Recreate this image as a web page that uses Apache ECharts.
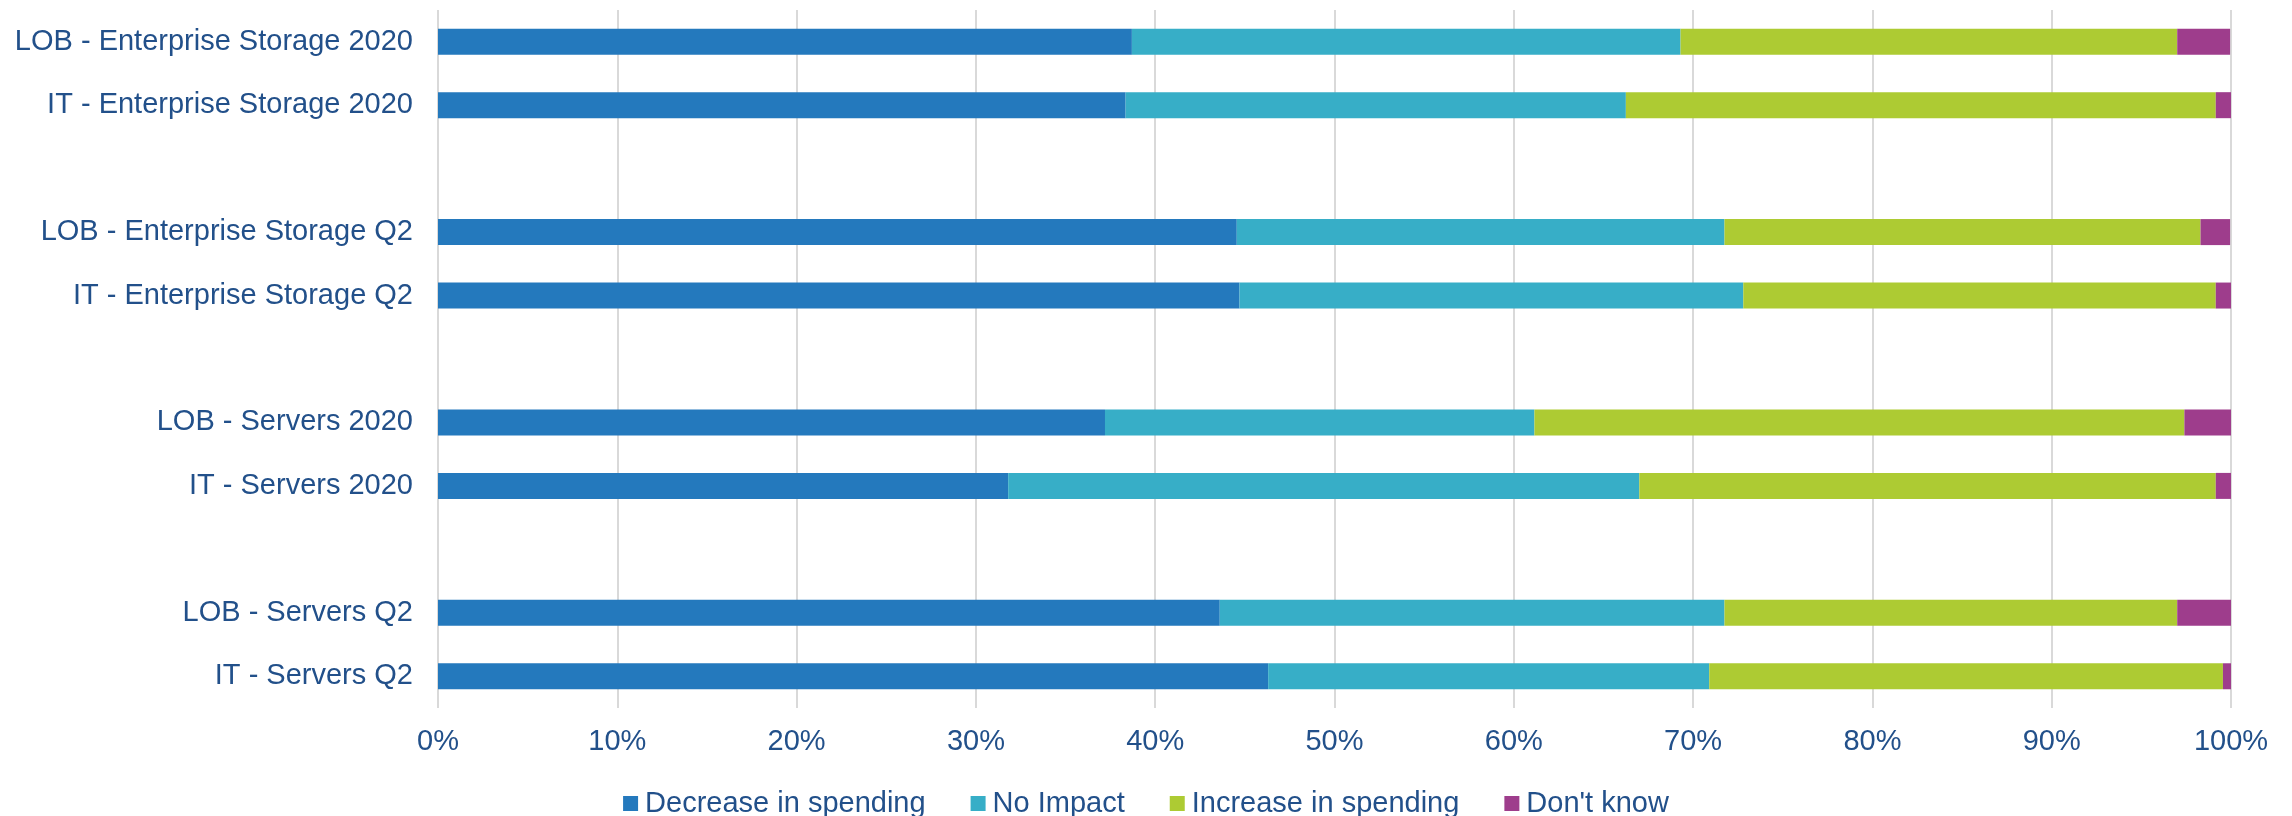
<!DOCTYPE html>
<html>
<head>
<meta charset="utf-8">
<title>Spending impact</title>
<script src="https://cdn.jsdelivr.net/npm/echarts@6/dist/echarts.min.js"></script>
<style>
    html, body { margin: 0; padding: 0; background: #ffffff; }
    #main { width: 2292px; height: 816px; }
</style>
</head>
<body>
<div id="main"></div>
<script>
// rows bottom -> top, blank rows are the gaps between groups
var categories = ['IT - Servers Q2', 'LOB - Servers Q2', ' ',
    'IT - Servers 2020', 'LOB - Servers 2020', '  ',
    'IT - Enterprise Storage Q2', 'LOB - Enterprise Storage Q2', '   ',
    'IT - Enterprise Storage 2020', 'LOB - Enterprise Storage 2020'];

var decrease = [46.3, 43.6, null, 31.8, 37.2, null, 44.7, 44.55, null, 38.35, 38.7];
var noImpact = [24.6, 28.15, null, 35.2, 23.95, null, 28.1, 27.2, null, 27.9, 30.6];
var increase = [28.65, 25.25, null, 32.15, 36.25, null, 26.35, 26.55, null, 32.9, 27.7];
var dontKnow = [0.45, 3.0, null, 0.85, 2.6, null, 0.85, 1.65, null, 0.85, 2.95];

var seriesNames = ['Decrease in spending', 'No Impact', 'Increase in spending', "Don't know"];
var seriesColors = ['#2479BD', '#37AEC7', '#ADCB33', '#9E3D8C'];

var textColor = '#22508A';
var fontName = '"Liberation Sans", Arial, sans-serif';

var dom = document.getElementById('main');
var myChart = echarts.init(dom);

function bar(name, values, color) {
    return {
        name: name,
        type: 'bar',
        stack: 'total',
        barWidth: 26,
        data: values,
        itemStyle: { color: color },
        animation: false
    };
}

var option = {
    backgroundColor: '#ffffff',
    textStyle: { fontFamily: fontName },
    grid: {
        left: 438,
        right: 61,
        top: 10,
        bottom: 108
    },
    legend: {
        top: 784,
        left: 'center',
        itemWidth: 15,
        itemHeight: 15,
        itemGap: 45,
        icon: 'rect',
        data: seriesNames,
        textStyle: {
            color: textColor,
            fontSize: 29,
            fontFamily: fontName,
            padding: [0, 0, 0, 2]
        }
    },
    xAxis: {
        type: 'value',
        min: 0,
        max: 100,
        interval: 10,
        axisLine: { show: false },
        axisTick: { show: false },
        axisLabel: {
            formatter: '{value}%',
            color: textColor,
            fontSize: 29,
            fontFamily: fontName,
            margin: 19
        },
        splitLine: {
            show: true,
            lineStyle: { color: '#D9D9D9', width: 2 }
        }
    },
    yAxis: {
        type: 'category',
        data: categories,
        axisLine: { show: false },
        axisTick: { show: false },
        axisLabel: {
            color: textColor,
            fontSize: 29,
            fontFamily: fontName,
            margin: 25
        }
    },
    series: [
        bar(seriesNames[0], decrease, seriesColors[0]),
        bar(seriesNames[1], noImpact, seriesColors[1]),
        bar(seriesNames[2], increase, seriesColors[2]),
        bar(seriesNames[3], dontKnow, seriesColors[3])
    ]
};

myChart.setOption(option, true);
</script>
</body>
</html>
